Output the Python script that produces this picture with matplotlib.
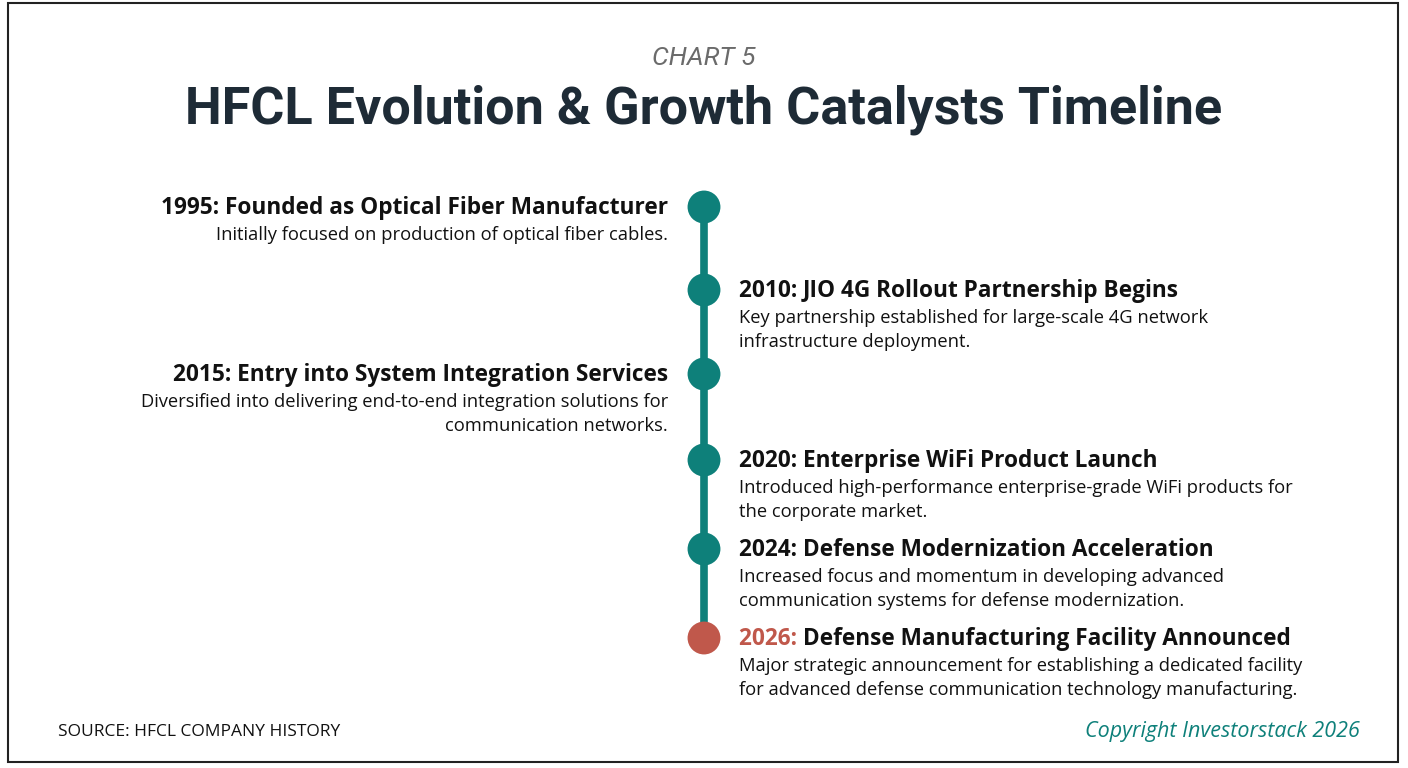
import matplotlib
matplotlib.use("Agg")
import matplotlib.pyplot as plt
from matplotlib.patches import Rectangle

years = ["1995", "2010", "2015", "2020", "2024", "2026"]
titles = ["Founded as Optical Fiber Manufacturer",
          "JIO 4G Rollout Partnership Begins",
          "Entry into System Integration Services",
          "Enterprise WiFi Product Launch",
          "Defense Modernization Acceleration",
          "Defense Manufacturing Facility Announced"]
descs = ["Initially focused on production of optical fiber cables.",
         "Key partnership established for large-scale 4G network\ninfrastructure deployment.",
         "Diversified into delivering end-to-end integration solutions for\ncommunication networks.",
         "Introduced high-performance enterprise-grade WiFi products for\nthe corporate market.",
         "Increased focus and momentum in developing advanced\ncommunication systems for defense modernization.",
         "Major strategic announcement for establishing a dedicated facility\nfor advanced defense communication technology manufacturing."]
sides = ["left", "right", "left", "right", "right", "right"]
highlight = [False, False, False, False, False, True]

W, H = 1408, 768
fig = plt.figure(figsize=(W/100, H/100), dpi=100)
ax = fig.add_axes([0, 0, 1, 1])
ax.set_xlim(0, W); ax.set_ylim(H, 0); ax.axis("off")

TEAL = "#0e807a"; RED = "#c0584b"; DARK = "#1e2b36"
ax.add_patch(Rectangle((8, 3), 1390, 759, fill=False, ec="#222222", lw=1.5))

ax.text(704, 58, "CHART 5", ha="center", va="center", fontsize=19, style="italic",
        color="#6b6b6b", family="Roboto")
ax.text(704, 110, "HFCL Evolution & Growth Catalysts Timeline", ha="center", va="center",
        fontsize=37.5, weight="bold", color=DARK, family="Roboto")

ypos = [207, 290, 374, 460, 549, 638]
cx = 704
ax.plot([cx, cx], [ypos[0], ypos[-1]], color=TEAL, lw=5.5, zorder=1)
for y, h in zip(ypos, highlight):
    ax.scatter([cx], [y], s=560, color=RED if h else TEAL, zorder=3, edgecolors="none")

fam = "Open Sans"
TS, DS = 16.3, 13.2
fig.canvas.draw()
r = fig.canvas.get_renderer()
for y, yr, t, d, s, h in zip(ypos, years, titles, descs, sides, highlight):
    if s == "left":
        x = 668
        ax.text(x, y + 1, f"{yr}: {t}", ha="right", va="center", fontsize=TS,
                weight="bold", color="#111111", family=fam)
        ax.text(x, y + 19, d, ha="right", va="top", fontsize=DS, color="#111111",
                family=fam, linespacing=1.4)
    else:
        x = 739
        yt = ax.text(x, y + 1, f"{yr}: ", ha="left", va="center", fontsize=TS,
                     weight="bold", color=RED if h else "#111111", family=fam)
        bb = yt.get_window_extent(r)
        inv = ax.transData.inverted()
        x2 = inv.transform((bb.x1, bb.y0))[0]
        ax.text(x2, y + 1, t, ha="left", va="center", fontsize=TS,
                weight="bold", color="#111111", family=fam)
        ax.text(x, y + 19, d, ha="left", va="top", fontsize=DS, color="#111111",
                family=fam, linespacing=1.4)

ax.text(58, 732, "SOURCE: HFCL COMPANY HISTORY", ha="left", va="center", fontsize=12.5,
        color="#111111", family=fam)
ax.text(1360, 732, "Copyright Investorstack 2026", ha="right", va="center", fontsize=15.5,
        style="italic", color=TEAL, family=fam)

fig.savefig("out.png", dpi=100)
